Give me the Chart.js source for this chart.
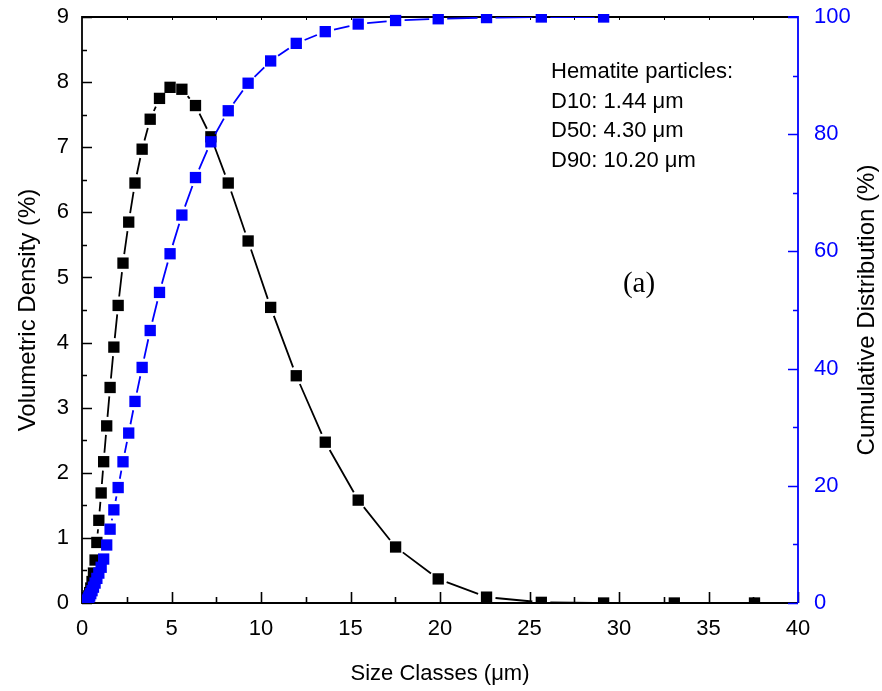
<!DOCTYPE html>
<html>
<head>
<meta charset="utf-8">
<script src="https://cdn.jsdelivr.net/npm/chart.js@4.4.1/dist/chart.umd.min.js"></script>
<style>
  html, body { margin: 0; padding: 0; background: #fff; }
  canvas { display: block; }
</style>
</head>
<body>
<canvas id="psdChart" width="882" height="691"></canvas>
<script>
// Size classes (µm)
const sizeClasses = [
  0.20, 0.23, 0.26, 0.30, 0.34, 0.38, 0.43, 0.49, 0.56, 0.64,
  0.73, 0.83, 0.94, 1.07, 1.21, 1.38, 1.57, 1.78, 2.02, 2.29,
  2.61, 2.96, 3.36, 3.81, 4.33, 4.92, 5.58, 6.34, 7.20, 8.17,
  9.28, 10.54, 11.97, 13.59, 15.43, 17.52, 19.90, 22.60, 25.66, 29.14,
  33.09, 37.57
];

// Volumetric density (%) - black squares
const volumetricDensity = [
  0.01, 0.02, 0.03, 0.05, 0.07, 0.11, 0.16, 0.23, 0.33, 0.46,
  0.66, 0.93, 1.27, 1.69, 2.17, 2.72, 3.31, 3.93, 4.57, 5.22,
  5.85, 6.45, 6.97, 7.43, 7.75, 7.92, 7.89, 7.64, 7.16, 6.45,
  5.56, 4.54, 3.49, 2.47, 1.58, 0.86, 0.37, 0.09, 0.01, 0,
  0, 0
];

// Cumulative distribution (%) - blue squares (ends at 29 µm)
const cumulativeDistribution = [
  0.1, 0.2, 0.3, 0.45, 0.65, 0.9, 1.2, 1.6, 2.1, 2.7,
  3.4, 4.2, 5.1, 6.1, 7.5, 9.9, 12.6, 15.9, 19.7, 24.1,
  29.0, 34.4, 40.2, 46.5, 53.0, 59.6, 66.2, 72.6, 78.7, 84.0,
  88.7, 92.5, 95.5, 97.5, 98.8, 99.4, 99.7, 99.9, 100, 100
];

const infoLines = ["Hematite particles:", "D10: 1.44 \u03bcm", "D50: 4.30 \u03bcm", "D90: 10.20 \u03bcm"];
const panelLabel = "(a)";
const rightTitle = "Cumulative Distribution (%)";

const BLUE = "#0000ff";
const SANS = '"Liberation Sans", Arial, sans-serif';
const LINE_GAP = 9; // Origin-style gap between line and symbol

Chart.defaults.font.family = SANS;
Chart.defaults.color = "#000";

const toPoints = (ys) => ys.map((y, i) => ({ x: sizeClasses[i], y }));

// connecting lines that stop short of each symbol
const gappedLines = {
  id: "gappedLines",
  beforeDatasetDraw(chart, args) {
    const ds = chart.data.datasets[args.index];
    const pts = args.meta.data;
    const { ctx, chartArea: a } = chart;
    ctx.save();
    ctx.beginPath();
    ctx.rect(a.left, a.top, a.right - a.left, a.bottom - a.top);
    ctx.clip();
    ctx.strokeStyle = ds.lineColor;
    ctx.lineWidth = 1.8;
    ctx.beginPath();
    for (let i = 1; i < pts.length; i++) {
      const p = pts[i - 1], q = pts[i];
      const dx = q.x - p.x, dy = q.y - p.y;
      const d = Math.hypot(dx, dy);
      if (d <= 2 * LINE_GAP) continue;
      const ux = dx / d, uy = dy / d;
      ctx.moveTo(p.x + ux * LINE_GAP, p.y + uy * LINE_GAP);
      ctx.lineTo(q.x - ux * LINE_GAP, q.y - uy * LINE_GAP);
    }
    ctx.stroke();
    ctx.restore();
  }
};

// frame with inward ticks (major + minor)
const frame = {
  id: "frame",
  beforeDatasetsDraw(chart) {
    const { ctx, chartArea: a, scales } = chart;
    const x = scales.x, y = scales.y, y1 = scales.y1;
    ctx.save();
    ctx.lineWidth = 1.6;
    ctx.strokeStyle = "#000";
    ctx.beginPath();
    // bottom ticks every 2.5
    for (let v = 0; v <= 40; v += 2.5) {
      const px = Math.round(x.getPixelForValue(v)) + 0.5;
      const len = v % 5 === 0 ? 11 : 6;
      ctx.moveTo(px, a.bottom);
      ctx.lineTo(px, a.bottom - len);
    }
    // left ticks every 0.5
    for (let v = 0; v <= 9; v += 0.5) {
      const py = Math.round(y.getPixelForValue(v)) + 0.5;
      const len = v % 1 === 0 ? 10 : 5;
      ctx.moveTo(a.left, py);
      ctx.lineTo(a.left + len, py);
    }
    ctx.stroke();
    // small ticks on the top edge
    ctx.lineWidth = 1;
    ctx.beginPath();
    for (let v = 2.5; v < 40; v += 2.5) {
      const px = Math.round(x.getPixelForValue(v)) + 0.5;
      ctx.moveTo(px, a.top);
      ctx.lineTo(px, a.top + 3);
    }
    ctx.stroke();
    // black frame: top, left, bottom
    ctx.lineWidth = 1.8;
    ctx.beginPath();
    ctx.moveTo(a.right, a.top);
    ctx.lineTo(a.left, a.top);
    ctx.lineTo(a.left, a.bottom);
    ctx.lineTo(a.right, a.bottom);
    ctx.stroke();
    // blue right axis with ticks every 10
    ctx.strokeStyle = BLUE;
    ctx.beginPath();
    ctx.moveTo(a.right - 10, a.top);
    ctx.lineTo(a.right, a.top);
    ctx.lineTo(a.right, a.bottom);
    ctx.stroke();
    ctx.lineWidth = 1.6;
    ctx.beginPath();
    for (let v = 0; v <= 100; v += 10) {
      const py = Math.round(y1.getPixelForValue(v)) + 0.5;
      const len = v % 20 === 0 ? 10 : 5;
      ctx.moveTo(a.right, py);
      ctx.lineTo(a.right - len, py);
    }
    ctx.stroke();
    ctx.restore();
  }
};

// text annotations and the right-hand title (reads bottom to top)
const notes = {
  id: "notes",
  afterDraw(chart) {
    const { ctx, chartArea: a } = chart;
    ctx.save();
    ctx.fillStyle = "#000";
    ctx.textAlign = "left";
    ctx.textBaseline = "middle";
    ctx.font = "22px " + SANS;
    infoLines.forEach((t, i) => ctx.fillText(t, 551, 72 + i * 29.5));
    ctx.textAlign = "center";
    ctx.font = '29px "Liberation Serif", "Times New Roman", serif';
    ctx.fillText(panelLabel, 639, 284);
    ctx.translate(867, (a.top + a.bottom) / 2);
    ctx.rotate(-Math.PI / 2);
    ctx.font = "24px " + SANS;
    ctx.fillText(rightTitle, 0, 0);
    ctx.restore();
  }
};

const noPadY = (w) => (s) => {
  s.width = w;
  s.paddingTop = 0;
  s.paddingBottom = 0;
};

new Chart(document.getElementById("psdChart"), {
  type: "line",
  data: {
    datasets: [
      {
        label: "Cumulative Distribution",
        data: toPoints(cumulativeDistribution),
        yAxisID: "y1",
        order: 0,
        showLine: false,
        lineColor: BLUE,
        pointStyle: "rect",
        pointRadius: 8,
        pointBorderWidth: 0,
        pointBackgroundColor: BLUE,
        pointBorderColor: BLUE,
        clip: { left: 0, right: 0, top: 3, bottom: 0 }
      },
      {
        label: "Volumetric Density",
        data: toPoints(volumetricDensity),
        yAxisID: "y",
        order: 1,
        showLine: false,
        lineColor: "#000",
        pointStyle: "rect",
        pointRadius: 8,
        pointBorderWidth: 0,
        pointBackgroundColor: "#000",
        pointBorderColor: "#000",
        clip: { left: 0, right: 0, top: 3, bottom: 0 }
      }
    ]
  },
  options: {
    responsive: false,
    animation: false,
    devicePixelRatio: 1,
    events: [],
    layout: { padding: { top: 17, left: 0, right: 0, bottom: 0 } },
    plugins: { legend: { display: false }, tooltip: { enabled: false } },
    scales: {
      x: {
        type: "linear",
        min: 0,
        max: 40,
        grid: { display: false, drawTicks: false },
        border: { display: false },
        ticks: { stepSize: 5, padding: 13, font: { size: 22 }, color: "#000", maxRotation: 0 },
        title: { display: true, text: "Size Classes (\u03bcm)", font: { size: 22 }, color: "#000", padding: { bottom: 4 } },
        afterFit: (s) => { s.height = 88; s.paddingLeft = 0; s.paddingRight = 0; }
      },
      y: {
        position: "left",
        min: 0,
        max: 9,
        grid: { display: false, drawTicks: false },
        border: { display: false },
        ticks: { stepSize: 1, padding: 13, font: { size: 22 }, color: "#000" },
        title: { display: true, text: "Volumetric Density (%)", font: { size: 24 }, color: "#000", padding: { top: 14 } },
        afterFit: noPadY(82)
      },
      y1: {
        position: "right",
        min: 0,
        max: 100,
        grid: { display: false, drawTicks: false },
        border: { display: false },
        ticks: { stepSize: 20, padding: 16, font: { size: 22 }, color: BLUE },
        title: { display: false },
        afterFit: noPadY(84)
      }
    }
  },
  plugins: [gappedLines, frame, notes]
});
</script>
</body>
</html>
